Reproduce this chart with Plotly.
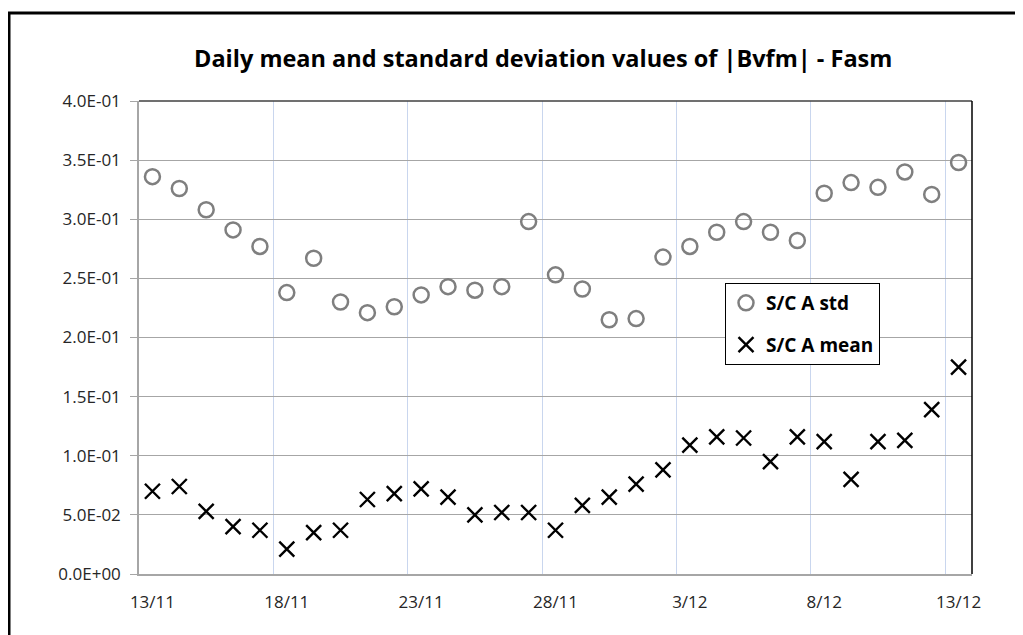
import plotly.graph_objects as go

dates = ["13/11","14/11","15/11","16/11","17/11","18/11","19/11","20/11","21/11","22/11",
         "23/11","24/11","25/11","26/11","27/11","28/11","29/11","30/11","1/12","2/12",
         "3/12","4/12","5/12","6/12","7/12","8/12","9/12","10/12","11/12","12/12","13/12"]
std_vals = [0.336,0.326,0.308,0.291,0.277,0.238,0.267,0.230,0.221,0.226,
            0.236,0.243,0.240,0.243,0.298,0.253,0.241,0.215,0.216,0.268,
            0.277,0.289,0.298,0.289,0.282,0.322,0.331,0.327,0.340,0.321,0.348]
mean_vals = [0.070,0.074,0.053,0.040,0.037,0.021,0.035,0.037,0.063,0.068,
             0.072,0.065,0.050,0.052,0.052,0.037,0.058,0.065,0.076,0.088,
             0.109,0.116,0.115,0.095,0.116,0.112,0.080,0.112,0.113,0.139,0.175]
tick_labels = ["13/11","18/11","23/11","28/11","3/12","8/12","13/12"]
y_ticks = [0.0,0.05,0.1,0.15,0.2,0.25,0.3,0.35,0.4]
y_labels = ["0.0E+00","5.0E-02","1.0E-01","1.5E-01","2.0E-01","2.5E-01","3.0E-01","3.5E-01","4.0E-01"]

xpos = [i + 0.5 for i in range(len(dates))]
tickpos = [dates.index(d) + 0.5 for d in tick_labels]

FONT = "Open Sans"
fig = go.Figure()
fig.add_trace(go.Scatter(x=xpos, y=std_vals, mode="markers", name="S/C A std",
                         legendgroup="a",
                         marker=dict(symbol="circle-open", size=15, color="#7f7f7f",
                                     line=dict(width=2.5, color="#7f7f7f"))))
fig.add_trace(go.Scatter(x=xpos, y=mean_vals, mode="markers", name="S/C A mean",
                         legendgroup="b",
                         marker=dict(symbol="x-thin-open", size=15, color="#000000",
                                     line=dict(width=2.4, color="#000000"))))

# page has an 8px body margin; figure coords = reference px - 8
OFF = 8
W, H = 1015, 627
L, T = 139 - OFF, 101 - OFF
R = W - (972 - OFF)
B = H - (574 - OFF)
pw, ph = W - L - R, H - T - B

def px_x(p):
    return (p - OFF - L) / pw

def px_y(p):
    return (H - B - (p - OFF)) / ph

fig.update_layout(
    width=W, height=H,
    margin=dict(l=L, r=R, t=T, b=B),
    paper_bgcolor="white", plot_bgcolor="white",
    font=dict(family=FONT, color="#262626", size=16),
    showlegend=True,
    legend=dict(x=px_x(725), y=px_y(283), xanchor="left", yanchor="top",
                bordercolor="#000000", borderwidth=1, bgcolor="white",
                font=dict(family=FONT, size=19, color="#000000", weight="bold"),
                tracegroupgap=14),
    xaxis=dict(range=[0, 31], tickmode="array", tickvals=tickpos, ticktext=tick_labels,
               showgrid=False, zeroline=False, ticks="", ticklabelstandoff=12,
               showline=True, linecolor="#a6a6a6", linewidth=1.5,
               tickfont=dict(size=17, color="#262626"),
               minor=dict(tick0=0, dtick=5, showgrid=True, gridcolor="#c9d6ee", gridwidth=1.3)),
    yaxis=dict(range=[0, 0.4], tickmode="array", tickvals=y_ticks, ticktext=y_labels,
               showgrid=True, gridcolor="#a6a6a6", gridwidth=1.3, zeroline=False,
               showline=True, linecolor="#a6a6a6", linewidth=1.5,
               ticks="outside", ticklen=7, tickcolor="#a6a6a6", tickwidth=1.3,
               ticklabelstandoff=6,
               tickfont=dict(size=17, color="#262626")),
    annotations=[dict(text="<b>Daily mean and standard deviation values of |Bvfm| - Fasm</b>",
                      xref="paper", yref="paper", x=px_x(543), y=px_y(58),
                      xanchor="center", yanchor="middle", showarrow=False,
                      font=dict(family=FONT, size=23.5, color="#000000"))],
    shapes=[
        dict(type="line", xref="paper", yref="paper", x0=0, x1=1, y0=1, y1=1,
             line=dict(color="#404040", width=1.5)),
        dict(type="line", xref="paper", yref="paper", x0=1, x1=1, y0=0, y1=1,
             line=dict(color="#000000", width=1.5)),
        dict(type="rect", xref="paper", yref="paper", x0=px_x(9), x1=px_x(1040),
             y0=px_y(660), y1=px_y(13), line=dict(color="#000000", width=3),
             fillcolor="rgba(0,0,0,0)", layer="above"),
    ],
)

fig.write_html("out.html")
